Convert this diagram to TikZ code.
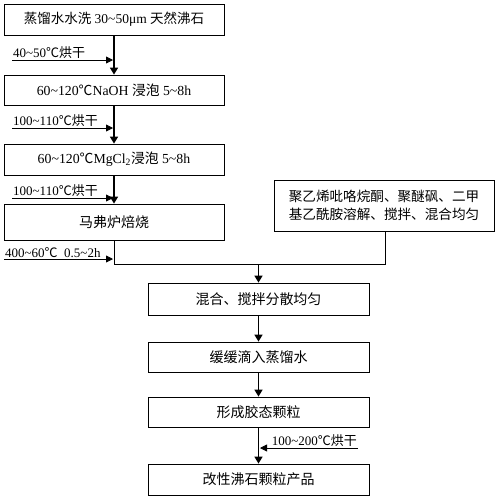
\documentclass[tikz,border=0pt]{standalone}
\usepackage{fontspec}
\setmainfont{Liberation Serif}
\newfontfamily\cjk{Noto Sans CJK SC}
\newcommand{\C}[1]{{\cjk #1}}
\newcommand{\tl}{\textasciitilde}
\usetikzlibrary{arrows.meta}
\begin{document}
\begin{tikzpicture}[x=1pt,y=-1pt,
  box/.style={draw,line width=0.8pt,minimum width=220pt,inner sep=0pt,align=center,font=\fontsize{14}{16}\selectfont},
  flow/.style={line width=1.6pt,-{Triangle[width=8pt,length=7pt]}},
  side/.style={line width=0.8pt,-{Triangle[width=7pt,length=7pt]}},
  link/.style={line width=0.8pt},
  lbl/.style={inner sep=1pt,anchor=south west,font=\fontsize{13}{14}\selectfont}]
\useasboundingbox (0,0) rectangle (499,499);
\node[box,minimum height=31pt,font=\fontsize{13.5}{15}\selectfont] (b1) at (114,19.5) {\C{蒸馏水水洗} 30\tl50μm \C{天然沸石}};
\node[box,minimum height=30pt,font=\fontsize{13.8}{15}\selectfont] (b2) at (114,90) {60\tl120\C{℃}NaOH \C{浸泡} 5\tl8h};
\node[box,minimum height=31pt,font=\fontsize{13.8}{15}\selectfont] (b3) at (114,159.5) {60\tl120\C{℃}MgCl\textsubscript{2}\C{浸泡} 5\tl8h};
\node[box,minimum height=36pt] (b4) at (114,222) {\C{马弗炉焙烧}};
\node[box,minimum height=51pt,font=\fontsize{13.6}{18}\selectfont\cjk] (r) at (384,205.5) {聚乙烯吡咯烷酮、聚醚砜、二甲\\基乙酰胺溶解、搅拌、混合均匀};
\node[box,minimum width=221pt,minimum height=32pt] (b5) at (258.5,299) {\C{混合、搅拌分散均匀}};
\node[box,minimum width=221pt,minimum height=30pt] (b6) at (258.5,357) {\C{缓缓滴入蒸馏水}};
\node[box,minimum width=221pt,minimum height=30pt] (b7) at (258.5,412) {\C{形成胶态颗粒}};
\node[box,minimum width=221pt,minimum height=31pt] (b8) at (258.5,479.5) {\C{改性沸石颗粒产品}};
% main flow
\draw[flow] (b1) -- (b2);
\draw[flow] (b2) -- (b3);
\draw[flow] (b3) -- (b4);
\coordinate (j1) at (114,264);
\coordinate (j2) at (385,264);
\coordinate (j3) at (258.5,264);
\draw[link] (b4.south) -- (j1) -- (j2) -- (r.south -| j2);
\draw[flow] (j3) -- (b5);
\draw[flow] (b5) -- (b6);
\draw[flow] (b6) -- (b7);
\draw[flow] (b7) -- (b8);
% side inputs
\coordinate (s1) at (12,60); \coordinate (t1) at (113,60);
\draw[side] (s1) -- (t1);
\node[lbl] (l1) at (s1) {40\tl50\C{℃烘干}};
\coordinate (s2) at (12,128); \coordinate (t2) at (113,128);
\draw[side] (s2) -- (t2);
\node[lbl] (l2) at (s2) {100\tl110\C{℃烘干}};
\coordinate (s3) at (12,198); \coordinate (t3) at (113,198);
\draw[side] (s3) -- (t3);
\node[lbl] (l3) at (s3) {100\tl110\C{℃烘干}};
\coordinate (s4) at (4,259); \coordinate (t4) at (113,259);
\draw[side] (s4) -- (t4);
\node[lbl] (l4) at (s4) {400\tl60\C{℃}\ \ 0.5\tl2h};
\coordinate (s5) at (358,448); \coordinate (t5) at (260,448);
\draw[side] (s5) -- (t5);
\node[lbl,anchor=south east] (l5) at (s5) {100\tl200\C{℃烘干}};
\end{tikzpicture}
\end{document}
